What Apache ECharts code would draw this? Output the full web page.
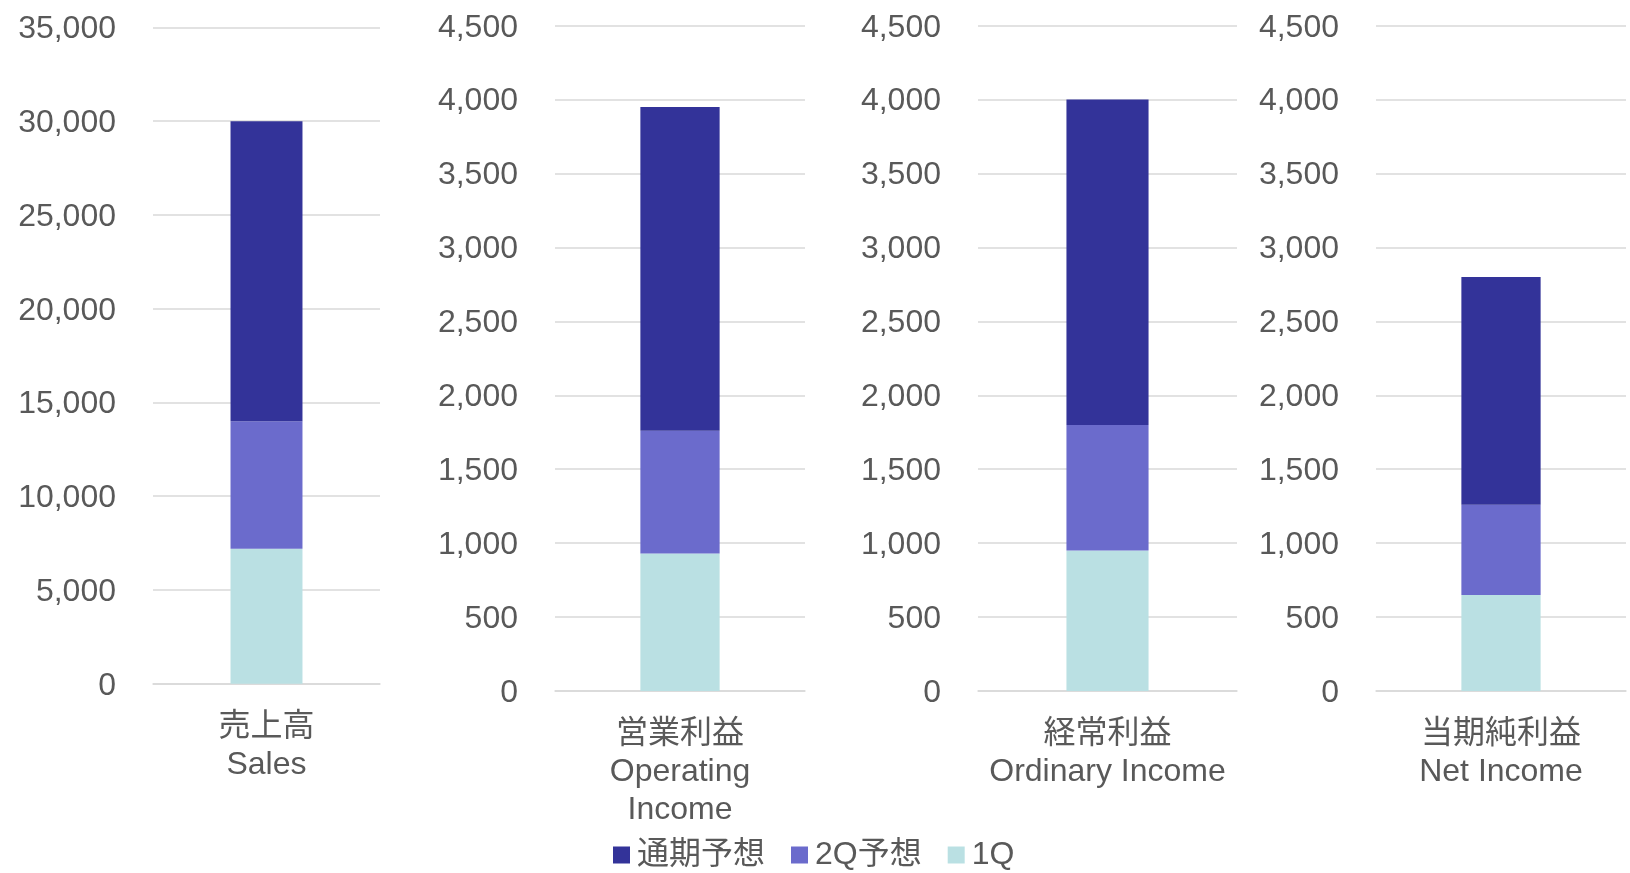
<!DOCTYPE html>
<html>
<head>
<meta charset="utf-8">
<title>業績予想</title>
<script src="https://cdn.jsdelivr.net/npm/echarts@6/dist/echarts.min.js"></script>
<style>
    html, body { margin: 0; padding: 0; background: #fff; }
    #main { width: 1630px; height: 873px; }
</style>
</head>
<body>
<div id="main"></div>
<script>
// 項目名
var categories = ['売上高\nSales', '営業利益\nOperating\nIncome', '経常利益\nOrdinary Income', '当期純利益\nNet Income'];
// 系列名（凡例の並び順）
var seriesNames = ['通期予想', '2Q予想', '1Q'];
// 積み上げの各部分（百万円）
var q1Data = [7200, 930, 950, 650];
var q2Data = [6800, 830, 850, 610];
var fyData = [16000, 2190, 2200, 1540];
// 縦軸の目盛
var axisMax = [35000, 4500, 4500, 4500];
var axisStep = [5000, 500, 500, 500];

var colors = { '通期予想': '#333399', '2Q予想': '#6b6bcc', '1Q': '#bae0e3' };
var fontFamily = "'Liberation Sans', Arial, 'Noto Sans CJK JP', sans-serif";
var textColor = '#595959';
var lineColor = '#d9d9d9';

// 各グラフの位置
var boxes = [
    { left: 153, width: 227, top: 27.5, bottom: 189.3 },
    { left: 555, width: 250, top: 25.7, bottom: 182 },
    { left: 978, width: 259, top: 25.7, bottom: 182 },
    { left: 1376, width: 250, top: 25.7, bottom: 182 }
];

//目盛の数字（カンマ区切り）
function fmt(v) {
    return '{n|' + v.toLocaleString('en-US') + '}';
}

function buildOption() {
    var grid = [], xAxis = [], yAxis = [], series = [];
    for (var i = 0; i < categories.length; i++) {
        grid.push(boxes[i]);
        xAxis.push({
            type: 'category',
            gridIndex: i,
            data: [categories[i]],
            axisTick: { show: false },
            axisLine: { lineStyle: { color: lineColor, width: 1.5 } },
            axisLabel: {
                color: textColor,
                fontSize: 32,
                fontFamily: fontFamily,
                lineHeight: 38,
                margin: 24,
                interval: 0
            }
        });
        yAxis.push({
            type: 'value',
            gridIndex: i,
            min: 0,
            max: axisMax[i],
            interval: axisStep[i],
            axisLine: { show: false },
            axisTick: { show: false },
            splitLine: { lineStyle: { color: lineColor, width: 1.5 } },
            axisLabel: {
                margin: 37,
                formatter: fmt,
                rich: {
                    n: {
                        color: textColor,
                        fontSize: 32,
                        fontFamily: fontFamily,
                        lineHeight: 36,
                        padding: [4, 0, 0, 0]
                    }
                }
            }
        });
        var parts = [
            { name: '1Q', data: q1Data },
            { name: '2Q予想', data: q2Data },
            { name: '通期予想', data: fyData }
        ];
        for (var j = 0; j < parts.length; j++) {
            series.push({
                name: parts[j].name,
                type: 'bar',
                stack: 'total' + i,
                xAxisIndex: i,
                yAxisIndex: i,
                barWidth: '31.7%',
                itemStyle: { color: colors[parts[j].name] },
                emphasis: { disabled: true },
                data: [parts[j].data[i]]
            });
        }
    }
    return {
        animation: false,
        textStyle: { fontFamily: fontFamily },
        legend: {
            data: seriesNames,
            left: 608,
            top: 832,
            icon: 'rect',
            itemWidth: 17,
            itemHeight: 17,
            itemGap: 26,
            textStyle: {
                color: textColor,
                fontSize: 32,
                fontFamily: fontFamily,
                lineHeight: 36,
                padding: [0, 0, 0, 2]
            }
        },
        grid: grid,
        xAxis: xAxis,
        yAxis: yAxis,
        series: series
    };
}

var chart = echarts.init(document.getElementById('main'));
chart.setOption(buildOption());
</script>
</body>
</html>
